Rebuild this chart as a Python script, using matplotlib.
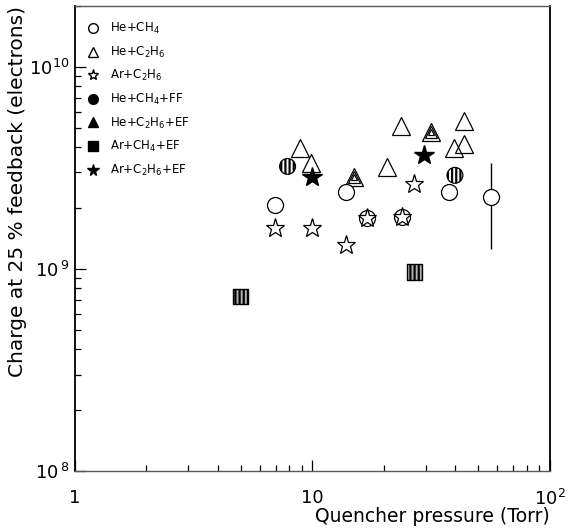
import numpy as np
import matplotlib
matplotlib.use("Agg")
import matplotlib.pyplot as plt
from matplotlib.lines import Line2D
from matplotlib.ticker import FixedLocator, FixedFormatter, LogLocator, NullFormatter

# values
he_ch4_x = [6.95, 13.8, 16.9, 23.9, 37.6, 56.5]
he_ch4_y = [2.07e9, 2.39e9, 1.79e9, 1.80e9, 2.41e9, 2.26e9]
he_ch4_ylo = [0, 0, 0, 0, 0, 1.0e9]      # error below point
he_ch4_yhi = [0, 0, 0, 0, 0, 1.06e9]     # error above point

he_c2h6_x = [8.9, 9.87, 20.7, 23.7, 39.4, 43.6, 43.6]
he_c2h6_y = [3.94e9, 3.34e9, 3.18e9, 5.07e9, 3.97e9, 4.15e9, 5.4e9]

ar_c2h6_x = [6.95, 9.96, 13.9, 16.9, 23.9, 26.7]
ar_c2h6_y = [1.59e9, 1.60e9, 1.31e9, 1.79e9, 1.80e9, 2.64e9]

he_ch4_ef_x = [7.86, 39.8]
he_ch4_ef_y = [3.21e9, 2.90e9]

he_c2h6_ef_x = [14.9, 31.7]
he_c2h6_ef_y = [2.84e9, 4.74e9]

ar_ch4_ef_x = [4.98, 26.8]
ar_ch4_ef_y = [7.3e8, 9.65e8]

ar_c2h6_ef_x = [9.96, 29.6]
ar_c2h6_ef_y = [2.86e9, 3.66e9]

labels = [r'He+CH$_4$', r'He+C$_2$H$_6$', r'Ar+C$_2$H$_6$', r'He+CH$_4$+FF',
          r'He+C$_2$H$_6$+EF', r'Ar+CH$_4$+EF', r'Ar+C$_2$H$_6$+EF']

x_ticks = [1, 10, 100]
x_ticklabels = ['1', '10', r'10$^2$']
y_ticks = [1e8, 1e9, 1e10]
y_ticklabels = [r'10$^{\,8}$', r'10$^{\,9}$', r'10$^{10}$']

plt.rcParams['hatch.linewidth'] = 1.6
plt.rcParams['font.family'] = ['DejaVu Sans']

fig = plt.figure(figsize=(5.67, 5.28), dpi=100)
ax = fig.add_axes([0.132, 0.108, 0.838, 0.881])
ax.set_xscale('log')
ax.set_yscale('log')
ax.set_xlim(1, 100)
ax.set_ylim(1e8, 2e10)

# open circles with error bar
ax.errorbar(he_ch4_x, he_ch4_y, yerr=[he_ch4_ylo, he_ch4_yhi], fmt='o', ms=11.5,
            mfc='white', mec='black', mew=0.9, ecolor='black', elinewidth=1.0,
            capsize=0, zorder=3)
# open triangles
ax.plot(he_c2h6_x, he_c2h6_y, '^', ms=13, mfc='none', mec='black', mew=0.9, zorder=3)
# open stars
ax.plot(ar_c2h6_x, ar_c2h6_y, '*', ms=14, mfc='white', mec='black', mew=0.9, zorder=4)
# hatched circles
ax.scatter(he_ch4_ef_x, he_ch4_ef_y, s=130, marker='o', facecolor='white',
           edgecolor='black', linewidth=0.9, hatch='||||', zorder=3)
# nested triangles
for ms in [13, 8.5, 4]:
    ax.plot(he_c2h6_ef_x, he_c2h6_ef_y, '^', ms=ms, mfc='none', mec='black',
            mew=0.9, zorder=3)
# hatched squares
ax.scatter(ar_ch4_ef_x, ar_ch4_ef_y, s=120, marker='s', facecolor='0.7',
           edgecolor='black', linewidth=1.0, hatch='||||', zorder=3)
# filled stars
ax.plot(ar_c2h6_ef_x, ar_c2h6_ef_y, '*', ms=15, mfc='black', mec='black', zorder=4)

# legend
handles = [
    Line2D([], [], ls='none', marker='o', ms=7, mfc='none', mec='black', mew=1.0),
    Line2D([], [], ls='none', marker='^', ms=7, mfc='none', mec='black', mew=1.0),
    Line2D([], [], ls='none', marker='*', ms=8, mfc='none', mec='black', mew=1.0),
    Line2D([], [], ls='none', marker='o', ms=7, mfc='black', mec='black'),
    Line2D([], [], ls='none', marker='^', ms=7, mfc='black', mec='black'),
    Line2D([], [], ls='none', marker='s', ms=6.5, mfc='black', mec='black'),
    Line2D([], [], ls='none', marker='*', ms=8.5, mfc='black', mec='black'),
]
leg = ax.legend(handles, labels, loc='upper left', bbox_to_anchor=(-0.005, 0.995),
                frameon=False, fontsize=8.5, labelspacing=0.72, handlelength=1.2,
                handletextpad=0.9, borderpad=0.6)

# ticks
ax.xaxis.set_major_locator(FixedLocator(x_ticks))
ax.xaxis.set_major_formatter(FixedFormatter(x_ticklabels))
ax.xaxis.set_minor_locator(LogLocator(base=10, subs=np.arange(2, 10)))
ax.xaxis.set_minor_formatter(NullFormatter())
ax.yaxis.set_major_locator(FixedLocator(y_ticks))
ax.yaxis.set_major_formatter(FixedFormatter(y_ticklabels))
ax.yaxis.set_minor_locator(LogLocator(base=10, subs=np.arange(2, 10)))
ax.yaxis.set_minor_formatter(NullFormatter())
ax.tick_params(which='both', direction='in', top=False, right=False, width=0.9)
ax.tick_params(which='major', length=8, labelsize=13)
ax.tick_params(which='minor', length=4.5)
ax.tick_params(axis='x', which='major', pad=13)
ax.tick_params(axis='y', which='major', pad=4)

for side in ['left', 'right']:
    ax.spines[side].set_linewidth(1.3)
for side in ['top', 'bottom']:
    ax.spines[side].set_linewidth(1.0)
    ax.spines[side].set_color('0.35')

ax.set_xlabel('Quencher pressure (Torr)', fontsize=13.5, ha='right')
ax.xaxis.set_label_coords(1.0, -0.077)
ax.set_ylabel('Charge at 25 % feedback (electrons)', fontsize=14.5)
ax.yaxis.set_label_coords(-0.1, 0.6)

fig.savefig('out.png', dpi=100)
